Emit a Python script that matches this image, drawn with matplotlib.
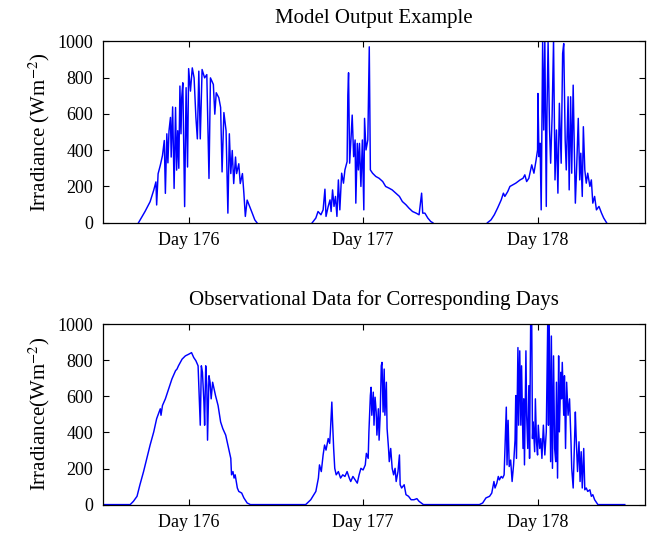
import numpy as np
import matplotlib
matplotlib.use("Agg")
import matplotlib.pyplot as plt

plt.rcParams['font.family'] = ['Liberation Serif', 'DejaVu Serif']
plt.rcParams['mathtext.fontset'] = 'stix'

# x axis is hours from the start of day 176
day_ticks = [12, 36, 60]
day_labels = ['Day 176', 'Day 177', 'Day 178']

# Model output (top panel)
model_176_h = [5.1, 6.0, 6.7, 7.2, 7.5, 7.6, 7.8, 8.1, 8.4, 8.65, 8.8, 9.0, 9.15, 9.3, 9.5, 9.6,
               9.8, 10.0, 10.2, 10.35, 10.5, 10.65, 10.8, 10.95, 11.05, 11.2, 11.45, 11.65,
               11.85, 12.0, 12.25, 12.5, 12.75, 13.0, 13.2, 13.4, 13.6, 13.85, 14.2, 14.5, 14.8,
               15.0, 15.4, 15.6, 15.8, 16.15, 16.4, 16.6, 16.85, 17.15, 17.4, 17.6, 17.8, 18.0,
               18.2, 18.45, 18.6, 18.9, 19.1, 19.4, 19.6, 19.8, 20.05, 20.4, 20.75, 21.1, 21.4]
model_176_v = [0, 62, 116, 180, 225, 98, 270, 316, 370, 453, 162, 490, 330, 507, 580, 362,
               638, 189, 635, 290, 507, 300, 753, 490, 690, 771, 89, 744,
               307, 849, 725, 853, 798, 580, 462, 835, 462, 844, 798, 816, 244,
               798, 762, 598, 716, 689, 635, 280, 607, 507, 53, 490, 271, 398,
               216, 362, 271, 325, 216, 271, 162, 35, 125, 89, 53, 16, 0]

model_177_h = [29.0, 29.5, 29.8, 30.2, 30.5, 30.75, 30.9, 31.2, 31.45, 31.6, 31.8, 32.0, 32.2,
               32.4, 32.6, 32.8, 33.05, 33.3, 33.5, 33.8, 33.9, 34.0, 34.15, 34.35, 34.5, 34.7,
               34.9, 35.0, 35.2, 35.35, 35.5, 35.7, 35.9, 36.1, 36.2, 36.4, 36.65, 36.85, 37.0,
               37.3, 37.75, 38.2, 38.7, 39.1, 39.6, 40.0, 40.5, 41.0, 41.4, 41.9, 42.3, 42.8,
               43.3, 43.7, 44.05, 44.2, 44.5, 44.9, 45.3, 45.6]
model_177_v = [0, 26, 62, 44, 71, 185, 35, 90, 126, 62, 181, 90, 145,
               35, 236, 71, 273, 218, 291, 337, 703, 826, 328, 474, 593, 364,
               456, 108, 437, 291, 437, 200, 456, 71, 575, 401, 456, 969, 291,
               273, 255, 245, 227, 200, 190, 181, 163, 145, 117, 99, 81, 62,
               53, 44, 163, 53, 53, 26, 7, 0]

model_178_h = [53.1, 53.6, 54.05, 54.5, 55.0, 55.3, 55.5, 55.9, 56.2, 56.6, 57.0, 57.3, 57.6,
               58.0, 58.25, 58.5, 58.8, 59.2, 59.5, 59.8, 60.0, 60.05, 60.2, 60.35, 60.5, 60.7,
               60.85, 61.0, 61.2, 61.3, 61.45, 61.65, 61.8, 62.0, 62.2, 62.4, 62.6, 62.8, 63.0,
               63.25, 63.45, 63.6, 63.8, 63.95, 64.2, 64.35, 64.55, 64.7, 64.9, 65.05, 65.2,
               65.4, 65.6, 65.8, 65.95, 66.15, 66.3, 66.5, 66.7, 66.9, 67.2, 67.4, 67.6, 67.85,
               68.1, 68.45, 68.8, 69.1, 69.5]
model_178_v = [0, 16, 44, 81, 126, 163, 145, 172, 200, 209, 218, 227, 236,
               245, 264, 227, 245, 319, 273, 346, 401, 712, 364, 438, 71, 996,
               511, 1005, 90, 621, 996, 511, 328, 584, 1005, 236, 511, 163, 658,
               328, 932, 987, 456, 291, 694, 181, 694, 273, 758, 419, 108,
               328, 575, 236, 383, 145, 529, 291, 218, 273, 200, 236, 108, 145,
               71, 90, 53, 26, 0]

# Observations (bottom panel)
obs_176_h = [0.0, 3.96, 4.4, 4.9, 5.3, 5.8, 6.25, 6.7, 7.2, 7.6, 8.1, 8.2, 8.4, 8.8, 9.25, 9.7,
             10.2, 10.4, 10.6, 11.1, 11.55, 12.0, 12.4, 12.7, 13.0, 13.3, 13.5, 13.6, 13.75,
             13.9, 14.1, 14.2, 14.35, 14.5, 14.6, 14.8, 14.95, 15.1, 15.3, 15.7, 16.05, 16.4,
             16.7, 17.1, 17.5, 17.8, 17.9, 18.1, 18.25, 18.4, 18.7, 18.9, 19.3, 19.6, 20.05,
             20.5]
obs_176_v = [0, 0, 18, 46, 110, 183, 256, 330, 403, 476, 531, 495, 549, 586, 641, 696,
             742, 751, 769, 806, 824, 833, 842, 815, 797, 769, 559, 440, 769,
             733, 568, 440, 769, 659, 357, 714, 678, 586, 678, 604, 549, 458,
             421, 385, 311, 256, 165, 183, 147, 165, 92, 73, 64, 37, 9,
             0]

obs_177_h = [28.1, 28.8, 29.5, 29.85, 30.0, 30.25, 30.5, 30.7, 30.9, 31.2, 31.4, 31.5, 31.7,
             31.8, 31.95, 32.1, 32.3, 32.6, 32.9, 33.2, 33.5, 33.8, 34.1, 34.3, 34.6, 34.9,
             35.2, 35.45, 35.7, 36.0, 36.3, 36.45, 36.7, 36.8, 37.0, 37.1, 37.2, 37.4, 37.5,
             37.65, 37.8, 37.9, 38.1, 38.2, 38.35, 38.5, 38.6, 38.75, 38.9, 39.0, 39.2, 39.3,
             39.5, 39.6, 39.8, 40.0, 40.2, 40.4, 40.55, 40.8, 41.0, 41.1, 41.3, 41.65, 41.9,
             42.25, 42.6, 43.0, 43.4, 43.7, 44.3]
obs_177_v = [0, 27, 73, 147, 220, 183, 275, 330, 302, 366, 339, 403, 568,
             458, 311, 201, 165, 183, 147, 165, 156, 183, 147, 128, 156, 137,
             119, 165, 201, 192, 220, 284, 256, 403, 604, 650, 495, 623, 440,
             595, 513, 385, 531, 357, 495, 769, 788, 513, 751, 495, 678, 421,
             311, 238, 311, 201, 165, 201, 128, 183, 275, 110, 92, 110, 55,
             46, 27, 27, 33, 18, 0]

obs_178_h = [52.0, 52.45, 52.9, 53.4, 53.7, 54.0, 54.15, 54.4, 54.6, 54.75, 55.0, 55.2, 55.4,
             55.7, 55.8, 55.95, 56.1, 56.3, 56.5, 56.7, 56.9, 57.0, 57.1, 57.3, 57.4, 57.55,
             57.7, 57.8, 58.0, 58.1, 58.2, 58.4, 58.5, 58.65, 58.8, 58.9, 59.05, 59.2, 59.3,
             59.4, 59.6, 59.7, 59.85, 60.0, 60.1, 60.3, 60.45, 60.6, 60.8, 61.0, 61.2, 61.4,
             61.5, 61.6, 61.8, 61.9, 62.05, 62.2, 62.35, 62.5, 62.6, 62.75, 62.9, 63.0, 63.2,
             63.3, 63.4, 63.6, 63.7, 63.85, 64.0, 64.2, 64.4, 64.6, 64.7, 64.9, 65.05, 65.2,
             65.3, 65.5, 65.7, 65.85, 66.0, 66.15, 66.35, 66.5, 66.7, 66.9, 67.2, 67.4, 67.6,
             67.85, 68.3, 72.0]
obs_178_v = [0, 9, 37, 46, 64, 128, 92, 119, 156, 137, 156, 147, 165,
             540, 220, 467, 211, 247, 128, 220, 357, 604, 256, 870, 440, 852,
             440, 769, 311, 586, 220, 852, 495, 311, 659, 256, 1010, 1010, 366,
             458, 293, 586, 348, 275, 440, 311, 366, 256, 440, 275, 403, 1010,
             440, 1010, 238, 934, 201, 824, 311, 238, 678, 147, 824, 403, 733,
             586, 788, 495, 714, 311, 678, 495, 586, 348, 201, 92, 311, 513,
             385, 183, 348, 128, 293, 92, 311, 82, 92, 73, 82, 46, 55,
             27, 0, 0]

fig = plt.figure(figsize=(6.51, 5.42), dpi=100)
ax1 = fig.add_axes([0.158, 0.589, 0.833, 0.335])
ax2 = fig.add_axes([0.158, 0.069, 0.833, 0.333])

for h, v in [(model_176_h, model_176_v), (model_177_h, model_177_v), (model_178_h, model_178_v)]:
    ax1.plot(h, v, color='#0000ff', lw=1.05)

obs_h = obs_176_h + obs_177_h + obs_178_h
obs_v = obs_176_v + obs_177_v + obs_178_v
ax2.plot(obs_h, obs_v, color='#0000ff', lw=1.05)

ax1.set_title('Model Output Example', fontsize=15, pad=13)
ax2.set_title('Observational Data for Corresponding Days', fontsize=15, pad=14)
ax1.set_ylabel(r'Irradiance (Wm$^{-2}$)', fontsize=15, labelpad=4)
ax2.set_ylabel(r'Irradiance(Wm$^{-2}$)', fontsize=15, labelpad=4)

for ax in (ax1, ax2):
    ax.set_xlim(0.2, 74.8)
    ax.set_ylim(0, 1000)
    ax.set_xticks(day_ticks)
    ax.set_xticklabels(day_labels)
    ax.set_yticks([0, 200, 400, 600, 800, 1000])
    ax.tick_params(direction='in', top=True, right=True, length=4, width=0.8,
                   labelsize=13, pad=7)
    for s in ax.spines.values():
        s.set_linewidth(0.9)

fig.savefig('out.png', dpi=100)
